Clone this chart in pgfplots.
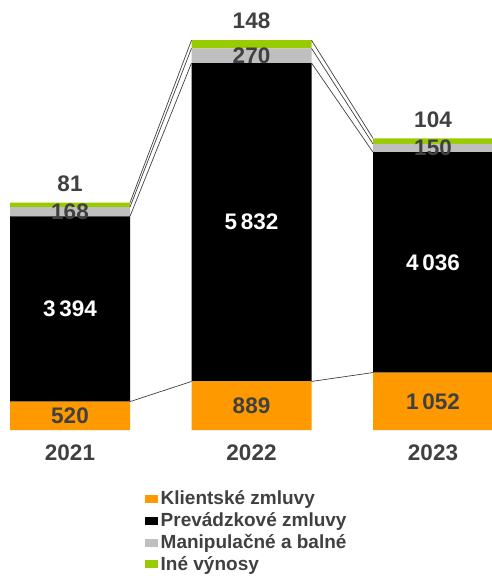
\documentclass[border=0pt]{standalone}
\usepackage{pgfplots}
\pgfplotsset{compat=1.18}
\usepackage{fontspec}
\setmainfont{Liberation Sans}
\definecolor{cOrange}{HTML}{FF9900}
\definecolor{cGreen}{HTML}{99CC00}
\definecolor{cGray}{HTML}{BFBFBF}
\definecolor{cText}{HTML}{404040}

\pgfplotsset{base/.style={
  at={(0pt,146pt)}, anchor=south west,
  scale only axis, width=492pt, height=430pt,
  xmin=-0.3857, xmax=2.325, ymin=0, ymax=7875,
  axis line style={draw=none}, tick style={draw=none},
  ytick=\empty, clip=false,
},
lbl/.style={draw=none, mark=none, nodes near coords, point meta=explicit symbolic,
  nodes near coords style={anchor=center, font=\fontsize{22.5}{22.5}\selectfont\bfseries, text=#1}},
sline/.style={draw=cText, line width=0.7pt, mark=none, unbounded coords=jump},
}

\begin{document}
\begin{tikzpicture}
\useasboundingbox (0,0) rectangle (492pt,576pt);
\begin{axis}[base, ybar stacked, bar width=120pt,
  xtick={0,1,2}, xticklabels={2021,2022,2023},
  xticklabel style={anchor=center, yshift=-23pt, font=\fontsize{22.5}{22.5}\selectfont\bfseries, text=cText},
  legend image code/.code={\fill[#1] (0pt,-3pt) rectangle (13pt,5pt);},
  legend cell align=left,
  legend style={at={(rel axis cs:0.2947,-0.137)}, anchor=north west, draw=none, fill=none,
    font=\fontsize{19}{22}\selectfont\bfseries, text=cText, inner sep=0pt, row sep=0pt,
    nodes={inner xsep=2.5pt, inner ysep=1.5pt, text height=14pt, text depth=4.8pt}},
]
\addplot[fill=cOrange, draw=none] coordinates {(0,520) (1,889) (2,1052)};
\addplot[fill=black, draw=none] coordinates {(0,3394) (1,5832) (2,4036)};
\addplot[fill=cGray, draw=none] coordinates {(0,168) (1,270) (2,150)};
\addplot[fill=cGreen, draw=none] coordinates {(0,81) (1,148) (2,104)};
\legend{Klientské zmluvy, Prevádzkové zmluvy, Manipulačné a balné, Iné výnosy}
\end{axis}
\begin{axis}[base, xtick=\empty]
% series lines between bars
\addplot[sline] coordinates {(0.3306,520) (0.6694,889) (1,nan) (1.3306,889) (1.6694,1052)};
\addplot[sline] coordinates {(0.3306,3914) (0.6694,6721) (1,nan) (1.3306,6721) (1.6694,5088)};
\addplot[sline] coordinates {(0.3306,4082) (0.6694,6991) (1,nan) (1.3306,6991) (1.6694,5238)};
\addplot[sline] coordinates {(0.3306,4163) (0.6694,7139) (1,nan) (1.3306,7139) (1.6694,5342)};
% labels
\addplot[lbl=cText] coordinates {(0,260)[520] (1,444.5)[889] (2,526)[1\,052]};
\addplot[lbl=white] coordinates {(0,2217)[3\,394] (1,3805)[5\,832] (2,3070)[4\,036]};
\addplot[lbl=cText] coordinates {(0,3998)[168] (1,6856)[270] (2,5163)[150]};
\addplot[lbl=cText, nodes near coords style={yshift=19pt}] coordinates {(0,4163)[81] (1,7139)[148] (2,5342)[104]};
\end{axis}
\end{tikzpicture}
\end{document}
